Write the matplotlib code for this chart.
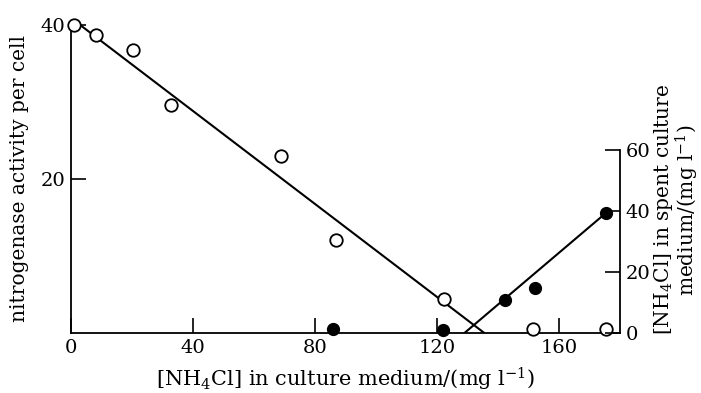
import numpy as np
import matplotlib
matplotlib.use("Agg")
import matplotlib.pyplot as plt

plt.rcParams['font.family'] = ['DejaVu Serif']
plt.rcParams['mathtext.fontset'] = 'dejavuserif'

# nitrogenase activity (open circles, left axis)
act_x = [1, 8.2, 20.4, 32.9, 68.7, 86.8, 122.4, 151.6, 175.3]
act_y = [40, 38.7, 36.8, 29.6, 23.0, 12.1, 4.4, 0.5, 0.5]

# NH4Cl in spent medium (filled circles, right axis)
spent_x = [85.9, 122.0, 142.4, 152.0, 175.3]
spent_y = [1.3, 1.0, 10.8, 14.7, 39.3]

# fitted lines
fit1_x = [2, 135.5]
fit1_y = [40.3, 0]
fit2_x = [129, 175.3]
fit2_y = [0, 39.3]

fig = plt.figure(figsize=(7.01, 3.93), dpi=100)
ax = fig.add_axes([0.1013, 0.1527, 0.7832, 0.7837])
ax2 = ax.twinx()

ax.plot(fit1_x, fit1_y, 'k-', lw=1.5)
ax.plot(act_x, act_y, 'o', ms=9, mfc='white', mec='black', mew=1.3, clip_on=False, zorder=3)
ax2.plot(fit2_x, fit2_y, 'k-', lw=1.5)
ax2.plot(spent_x, spent_y, 'o', ms=8.5, mfc='black', mec='black', clip_on=False, zorder=3)

ax.set_xlim(0, 180)
ax.set_ylim(0, 40)
ax2.set_ylim(0, 101)

ax.spines['top'].set_visible(False)
ax2.spines['top'].set_visible(False)
ax.spines['right'].set_visible(False)
ax2.spines['left'].set_visible(False)
ax2.spines['bottom'].set_visible(False)
ax2.spines['right'].set_bounds(0, 60)
for s in ['left', 'bottom']:
    ax.spines[s].set_linewidth(1.3)
ax2.spines['right'].set_linewidth(1.3)

ax.set_xticks([0, 40, 80, 120, 160])
ax.set_yticks([20, 40])
ax2.set_yticks([0, 20, 40, 60])
ax.tick_params(axis='both', direction='in', length=11, width=1.2, labelsize=14, pad=4)
ax2.tick_params(axis='y', direction='in', length=11, width=1.2, labelsize=14, pad=4)

ax.set_xlabel('[NH$_4$Cl] in culture medium/(mg l$^{-1}$)', fontsize=15, labelpad=7)
ax.set_ylabel('nitrogenase activity per cell', fontsize=14.5)
ax.yaxis.set_label_coords(-0.076, 0.5)
ax2.set_ylabel('[NH$_4$Cl] in spent culture\nmedium/(mg l$^{-1}$)', fontsize=14.5,
               linespacing=0.95)
ax2.yaxis.set_label_coords(1.058, 0.40)

fig.savefig('out.png', dpi=100)
